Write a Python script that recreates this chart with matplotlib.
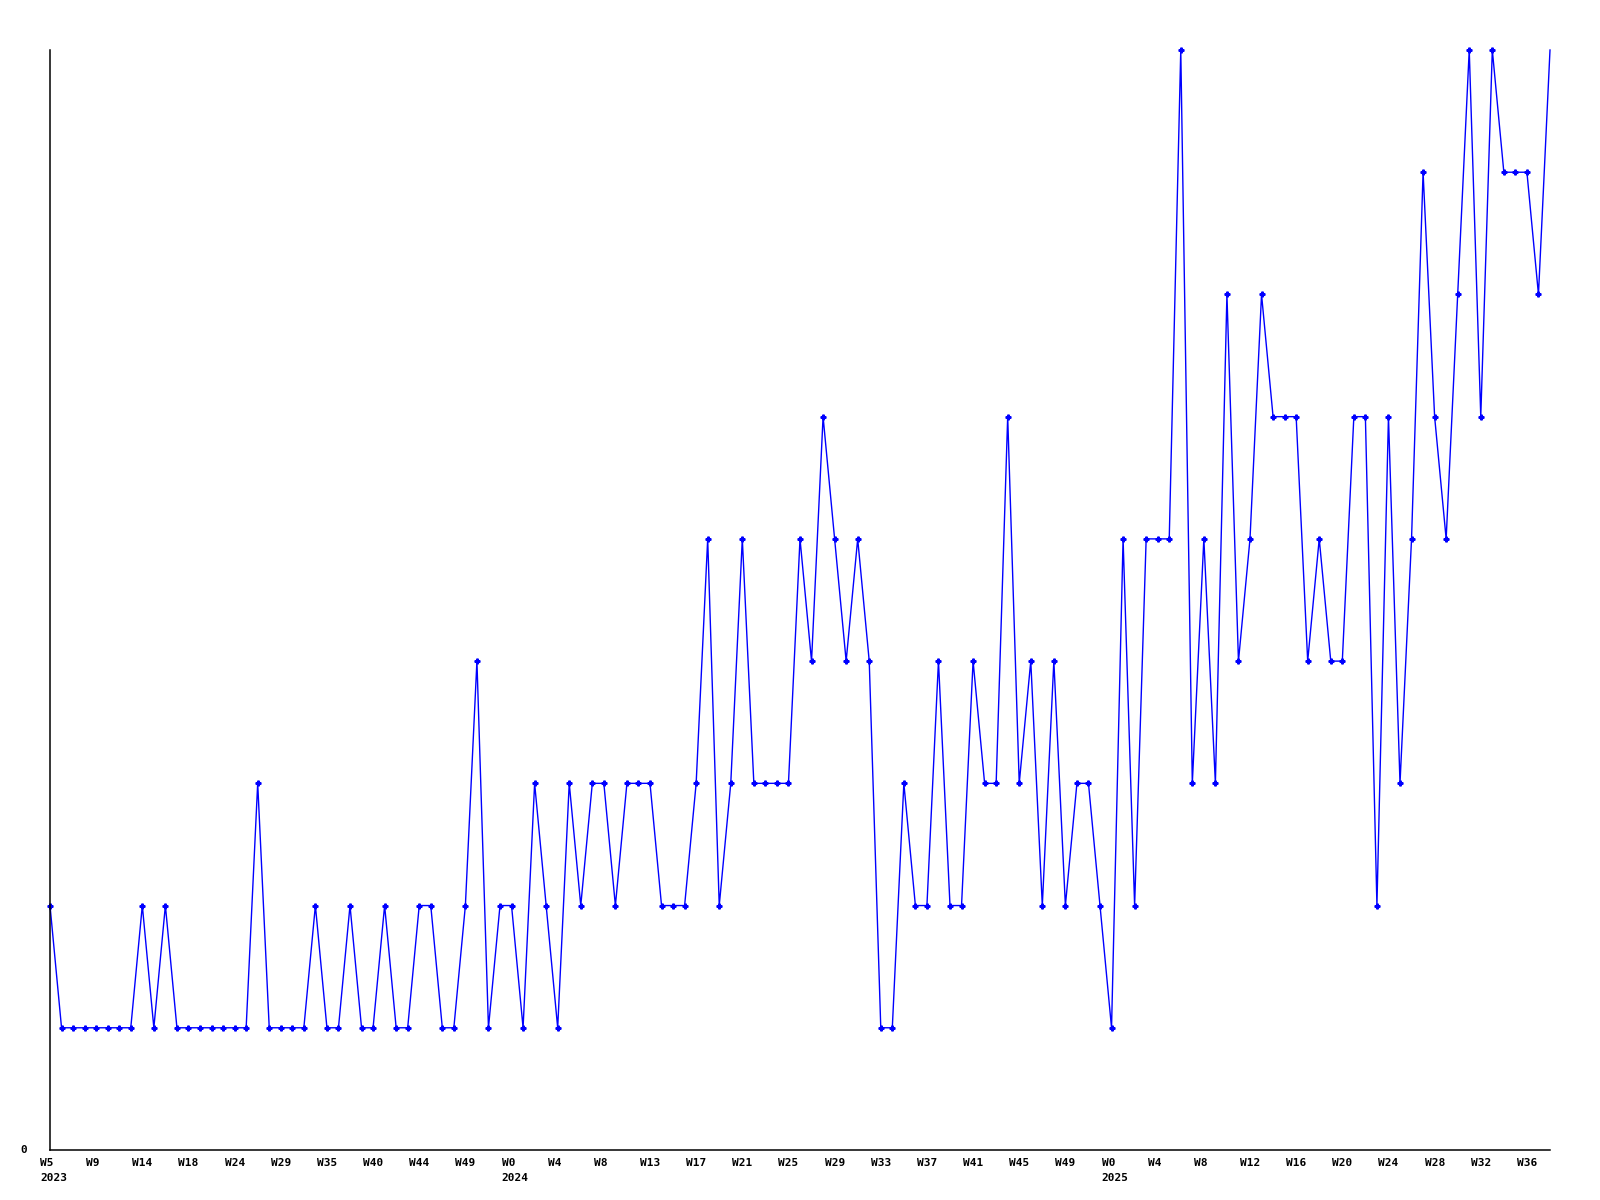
import matplotlib
matplotlib.use('Agg')
from matplotlib import pyplot as plt
import matplotlib.transforms as mtransforms

# weekly counts, one per point
values = [2, 1, 1, 1, 1, 1, 1, 1, 2, 1, 2, 1, 1, 1, 1, 1, 1, 1, 3, 1,
          1, 1, 1, 2, 1, 1, 2, 1, 1, 2, 1, 1, 2, 2, 1, 1, 2, 4, 1, 2,
          2, 1, 3, 2, 1, 3, 2, 3, 3, 2, 3, 3, 3, 2, 2, 2, 3, 5, 2, 3,
          5, 3, 3, 3, 3, 5, 4, 6, 5, 4, 5, 4, 1, 1, 3, 2, 2, 4, 2, 2,
          4, 3, 3, 6, 3, 4, 2, 4, 2, 3, 3, 2, 1, 5, 2, 5, 5, 5, 9, 3,
          5, 3, 7, 4, 5, 7, 6, 6, 6, 4, 5, 4, 4, 6, 6, 2, 6, 3, 5, 8,
          6, 5, 7, 9, 6, 9, 8, 8, 8, 7, 9]

# one label every 4 points
week_labels = ['W5', 'W9', 'W14', 'W18', 'W24', 'W29', 'W35', 'W40', 'W44', 'W49',
               'W0', 'W4', 'W8', 'W13', 'W17', 'W21', 'W25', 'W29', 'W33', 'W37',
               'W41', 'W45', 'W49', 'W0', 'W4', 'W8', 'W12', 'W16', 'W20', 'W24',
               'W28', 'W32', 'W36']
year_labels = ['2023', '2024', '2025']
year_pos = [0, 40, 92]

font = dict(family='DejaVu Sans Mono', fontweight='bold', fontsize=8)

fig = plt.figure(figsize=(16, 12), dpi=100)
ax = fig.add_axes([50/1600, 1 - 1150/1200, 1500/1600, 1100/1200])

x = list(range(len(values)))
ax.plot(x, values, color='#0000ff', linewidth=1.0, marker='P', markersize=3.5,
        markevery=list(range(len(values) - 1)), clip_on=False)

ax.set_xlim(0, len(values) - 1)
ax.set_ylim(0, max(values))

for s in ['top', 'right']:
    ax.spines[s].set_visible(False)
ax.spines['left'].set_linewidth(1.1)
ax.spines['bottom'].set_linewidth(1.1)
ax.set_xticks([])
ax.set_yticks([])

# y label at zero
ax.text(0, 0, '0', transform=mtransforms.offset_copy(ax.transData, fig=fig, x=-30, y=0, units='dots'),
        ha='left', va='center', **font)

# week and year labels under the axis
base = mtransforms.blended_transform_factory(ax.transData, fig.transFigure)
trans = mtransforms.offset_copy(base, fig=fig, x=-10, y=0, units='dots')
for i, lab in enumerate(week_labels):
    ax.text(i * 4, 1 - 1163/1200, lab, transform=trans, ha='left', va='center', **font)
for p, lab in zip(year_pos, year_labels):
    ax.text(p, 1 - 1178/1200, lab, transform=trans, ha='left', va='center', **font)

plt.savefig('out.png', dpi=100)
